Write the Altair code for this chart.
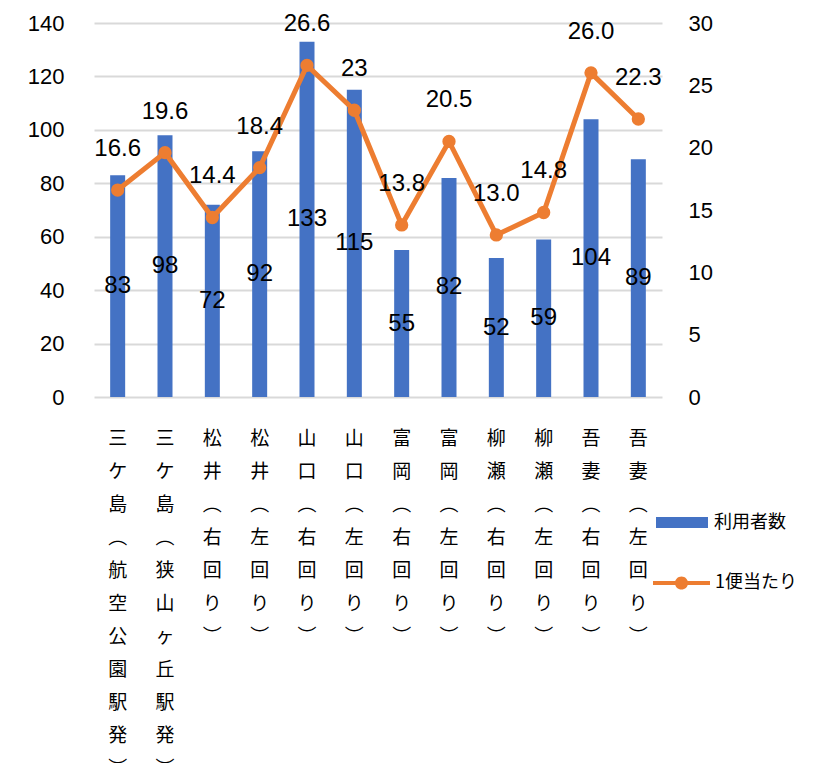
import altair as alt
import pandas as pd

categories = ["三ケ島（航空公園駅発）", "三ケ島（狭山ヶ丘駅発）", "松井（右回り）", "松井（左回り）",
              "山口（右回り）", "山口（左回り）", "富岡（右回り）", "富岡（左回り）",
              "柳瀬（右回り）", "柳瀬（左回り）", "吾妻（右回り）", "吾妻（左回り）"]
users = [83, 98, 72, 92, 133, 115, 55, 82, 52, 59, 104, 89]
per_trip = [16.6, 19.6, 14.4, 18.4, 26.6, 23.0, 13.8, 20.5, 13.0, 14.8, 26.0, 22.3]
per_trip_labels = ["16.6", "19.6", "14.4", "18.4", "26.6", "23", "13.8", "20.5", "13.0", "14.8", "26.0", "22.3"]
left_ticks = [0, 20, 40, 60, 80, 100, 120, 140]
right_ticks = [0, 5, 10, 15, 20, 25, 30]
series_names = ["利用者数", "1便当たり"]

df = pd.DataFrame({"cat": categories, "users": users, "per": per_trip, "lab": per_trip_labels,
                   "s1": [series_names[0]] * len(categories),
                   "s2": [series_names[1]] * len(categories)})

BLUE = "#4472C4"
ORANGE = "#ED7D31"
NUM_FONT = "Liberation Sans"
JP_FONT = "Noto Sans CJK JP"

x = alt.X("cat:N", sort=None,
          scale=alt.Scale(paddingInner=0.1, paddingOuter=0.05),
          axis=alt.Axis(title=None, labelAngle=0,
                        labelExpr="split(replace(replace(datum.label, '（', '︵'), '）', '︶'), '')",
                        labelFont=JP_FONT, labelFontSize=19, labelLineHeight=33,
                        labelBaseline="top", labelAlign="center", labelPadding=32,
                        labelOverlap=False, labelColor="#000000",
                        ticks=False, tickSize=0, domain=False, grid=False))

yl_scale = alt.Scale(domain=[0, 140])
yr_scale = alt.Scale(domain=[0, 30])
yl_axis = alt.Axis(values=left_ticks, title=None, orient="left", grid=True, gridColor="#D9D9D9",
                   gridWidth=2, domain=False, ticks=False, tickSize=0, labelPadding=30,
                   labelFont=NUM_FONT, labelFontSize=22, labelColor="#000000")
yr_axis = alt.Axis(values=right_ticks, title=None, orient="right", grid=False,
                   domain=False, ticks=False, tickSize=0, labelPadding=26,
                   labelFont=NUM_FONT, labelFontSize=22, labelColor="#000000")

bars = alt.Chart(df).mark_bar(size=15).encode(
    x=x,
    y=alt.Y("users:Q", scale=yl_scale, axis=yl_axis, title=None),
    fill=alt.Fill("s1:N",
                  scale=alt.Scale(domain=[series_names[0]], range=[BLUE]),
                  legend=alt.Legend(title=None, orient="none", legendX=562, legendY=473.5,
                                    symbolType="M-1,-0.21H1V0.21H-1Z", symbolSize=2704,
                                    symbolStrokeWidth=0, symbolOpacity=1, padding=0,
                                    labelFont=JP_FONT, labelFontSize=18, labelColor="#000000",
                                    labelOffset=6)),
)

bar_text = alt.Chart(df).transform_calculate(mid="datum.users / 2").mark_text(
    font=NUM_FONT, fontSize=24, color="#000000", baseline="middle"
).encode(
    x=x,
    y=alt.Y("mid:Q", scale=yl_scale, axis=yl_axis, title=None),
    text=alt.Text("users:Q"),
)

line = alt.Chart(df).mark_line(color=ORANGE, strokeWidth=5).encode(
    x=x,
    y=alt.Y("per:Q", scale=yr_scale, axis=yr_axis, title=None),
)

points = alt.Chart(df).mark_circle(size=177, opacity=1).encode(
    x=x,
    y=alt.Y("per:Q", scale=yr_scale, axis=yr_axis, title=None),
    color=alt.Color("s2:N",
                    scale=alt.Scale(domain=[series_names[1]], range=[ORANGE]),
                    legend=alt.Legend(title=None, orient="none", legendX=559, legendY=531.5,
                                      symbolType="M-1,-0.07H1V0.07H-1Z M-0.23,0A0.23,0.23,0,1,1,0.23,0A0.23,0.23,0,1,1,-0.23,0Z",
                                      symbolSize=3249, symbolStrokeWidth=0, symbolOpacity=1,
                                      padding=0, labelFont=JP_FONT, labelFontSize=18,
                                      labelColor="#000000", labelOffset=5)),
)

line_text = alt.Chart(df).mark_text(
    font=NUM_FONT, fontSize=24, color="#000000", baseline="middle", dy=-41
).encode(
    x=x,
    y=alt.Y("per:Q", scale=yr_scale, axis=yr_axis, title=None),
    text=alt.Text("lab:N"),
)

left = alt.layer(bars, bar_text)
right = alt.layer(line, points, line_text)

chart = alt.layer(left, right).resolve_scale(y="independent").properties(
    width=568, height=374,
    autosize=alt.AutoSizeParams(type="none"),
    padding={"left": 86, "top": 15, "right": 143, "bottom": 366},
).configure_view(stroke=None)

chart.save("out.html", embed_options={"renderer": "svg", "actions": False})
